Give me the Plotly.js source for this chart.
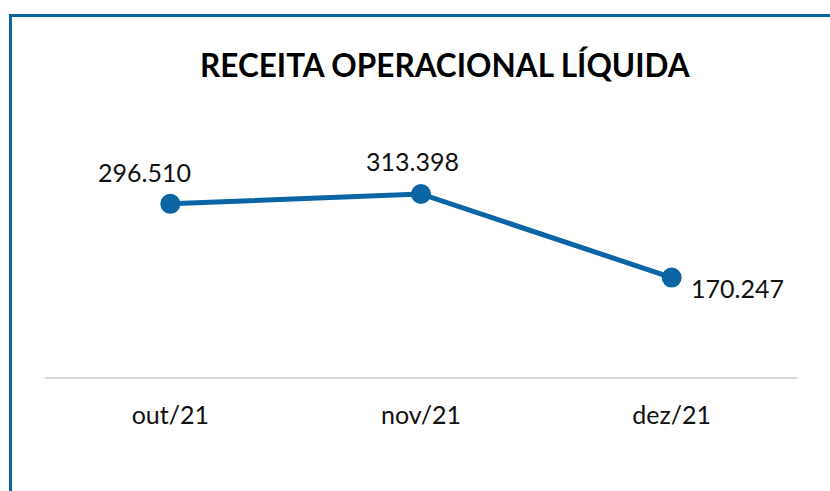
<!DOCTYPE html>
<html>
<head>
<meta charset="utf-8">
<script src="https://cdn.plot.ly/plotly-3.0.1.min.js"></script>
<style>
html,body{margin:0;padding:0;background:#fff;}
#wrap{position:relative;width:830px;height:491px;overflow:hidden;}
#chart{width:830px;height:491px;}
#frame{position:absolute;left:9px;top:14px;width:840px;height:500px;border-top:3px solid #0b65a5;border-left:3px solid #0b65a5;pointer-events:none;}
</style>
</head>
<body>
<div id="wrap"><div id="chart"></div><div id="frame"></div></div>
<script>
const categories = ['out/21', 'nov/21', 'dez/21'];
const values = [296510, 313398, 170247];
const labelShiftX = [-26, -9, 66];
const labelShiftY = [32, 33, -10];

function fmt(v){ return String(v).replace(/\B(?=(\d{3})+(?!\d))/g, '.'); }

const FONT = 'Lato, "Open Sans", sans-serif';
const BLUE = '#0b64a3';

const trace = {
  x: categories, y: values, type: 'scatter', mode: 'lines+markers',
  line: {color: BLUE, width: 5},
  marker: {color: BLUE, size: 20},
  hoverinfo: 'none', cliponaxis: false
};

const annotations = categories.map((c, i) => ({
  x: c, y: values[i], xref: 'x', yref: 'y', text: fmt(values[i]),
  showarrow: false, xshift: labelShiftX[i], yshift: labelShiftY[i],
  font: {family: FONT, size: 25, color: '#111'}
}));

const layout = {
  width: 830, height: 491,
  margin: {l: 45, r: 33, t: 85, b: 114},
  paper_bgcolor: '#fff', plot_bgcolor: '#fff',
  showlegend: false,
  title: {text: '<b>RECEITA OPERACIONAL LÍQUIDA</b>', x: 0.536, xanchor: 'center', xref: 'container',
          y: 1 - 65.5/491, yanchor: 'middle', yref: 'container',
          font: {family: FONT, size: 31.5, color: '#000'}},
  xaxis: {type: 'category', range: [-0.5, 2.5], showgrid: false, zeroline: false,
          showline: true, linecolor: '#d9d9d9', linewidth: 2, ticks: '', ticklabelstandoff: 15,
          tickfont: {family: FONT, size: 25, color: '#111'}, fixedrange: true},
  yaxis: {range: [0, 500000], visible: false, showgrid: false, zeroline: false, fixedrange: true},
  annotations: annotations
};

Plotly.newPlot('chart', [trace], layout, {displayModeBar: false, staticPlot: true});
</script>
</body>
</html>
